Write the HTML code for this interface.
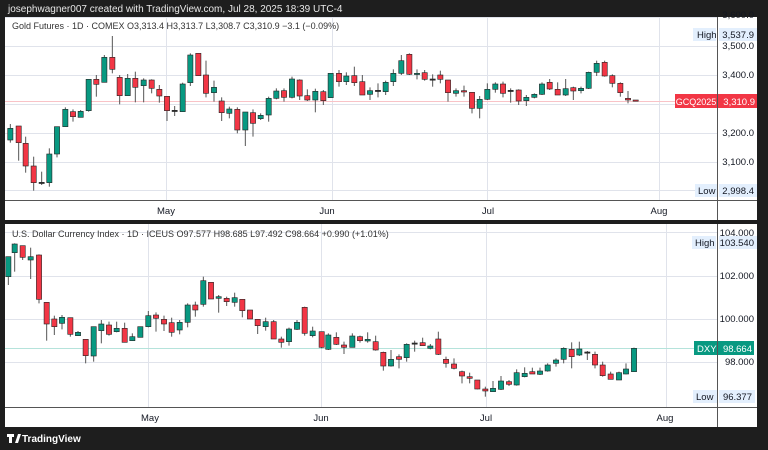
<!DOCTYPE html>
<html><head><meta charset="utf-8"><style>
html,body{margin:0;padding:0;background:#1e1e1e;width:768px;height:450px;overflow:hidden;font-family:"Liberation Sans",sans-serif}
svg{position:absolute;left:0;top:0}
</style></head><body>
<svg id="s" width="768" height="450" xmlns="http://www.w3.org/2000/svg" font-family="Liberation Sans, sans-serif">
<rect width="768" height="450" fill="#1e1e1e"/>
<text x="8" y="12" fill="#e8e8e8" font-size="10">josephwagner007 created with TradingView.com, Jul 28, 2025 18:39 UTC-4</text>
<rect x="5" y="17" width="752" height="203" fill="#fff"/>
<rect x="5" y="224" width="752" height="203" fill="#fff"/>
<g id="grid" stroke="#e0e3eb" stroke-width="1"></g>
<g id="c"></g>
<g id="ov"></g>
</svg>
<script>
const NS="http://www.w3.org/2000/svg";
const g=document.getElementById('grid'),c=document.getElementById('c'),ov=document.getElementById('ov');
function el(p,t,a,txt){const e=document.createElementNS(NS,t);for(const k in a)e.setAttribute(k,a[k]);if(txt!=null)e.textContent=txt;p.appendChild(e);return e;}
function line(p,x1,y1,x2,y2,s,w,d){el(p,'line',{x1,y1,x2,y2,stroke:s||'#e0e3eb','stroke-width':w||1,'stroke-dasharray':d||''});}
function txt(x,y,t,o){return el(ov,'text',Object.assign({x,y,'font-size':9.5,fill:'#131722'},o||{}),t);}
[17,46,75,104,133,162,190].forEach(y=>line(g,5,y+.5,717,y+.5));
[166,332,487,659].forEach(x=>line(g,x+.5,17,x+.5,200));
[232,276,319,362].forEach(y=>line(g,5,y+.5,717,y+.5));
[148,321,486,666].forEach(x=>line(g,x+.5,224,x+.5,407));
line(g,5,101.5,717,101.5,'#f9c3c7',1);
line(g,5,348.5,717,348.5,'#b5e3db',1);
const G1=[[31,'g',325,360,312,368],[56,'r',318,368,318,422],[77,'r',370,438,350,458],[101,'r',438,488,410,512],[125,'d',487,489,455,495],[148,'g',402,488,385,500],[171,'g',320,402,320,412],[196,'g',268,320,262,320],[219,'r',275,290,268,305],[242,'g',274,292,270,292],[266,'g',178,272,178,275],[289,'r',178,193,165,230],[313,'g',112,187,105,187],[337,'r',112,148,48,160],[359,'r',172,227,165,253],[383,'g',175,227,162,227],[406,'r',175,202,155,247],[431,'g',180,197,175,247],[455,'r',180,205,178,220],[478,'r',208,228,195,248],[501,'r',229,272,229,303],[524,'d',271,273,258,288],[548,'g',192,275,188,275],[571,'g',105,188,100,198],[595,'r',100,167,100,167],[618,'r',165,220,122,232],[642,'g',202,218,182,245],[665,'r',243,278,232,303],[688,'g',267,280,260,295],[712,'r',268,330,262,340],[736,'g',276,330,276,378],[759,'r',278,310,268,350],[782,'g',286,296,280,300],[806,'g',235,285,230,305],[829,'g',213,235,205,238],[852,'r',212,232,205,245],[876,'g',177,232,170,235],[899,'r',180,228,178,240],[922,'r',227,240,208,243],[946,'g',214,240,206,277]];
const G2=[[10,'r',155,182,150,195],[32,'g',100,173,100,173],[57,'r',100,125,90,140],[79,'g',108,125,97,135],[103,'r',107,128,80,138],[127,'r',125,165,105,165],[150,'g',152,163,142,180],[174,'d',151,153,130,172],[197,'g',127,155,122,165],[220,'g',100,125,88,138],[244,'g',62,100,45,105],[268,'r',43,103,40,105],[291,'g',100,103,88,118],[314,'r',98,118,90,122],[338,'d',117,119,103,140],[361,'r',105,118,92,130],[384,'r',120,158,120,185],[408,'g',152,160,145,170],[432,'r',152,156,137,170],[456,'r',157,205,157,220],[479,'g',178,205,168,235],[502,'g',148,178,130,180],[526,'g',132,148,127,158],[549,'r',132,160,125,172],[572,'d',151,153,145,188],[596,'r',150,183,148,195],[619,'g',172,182,165,198],[643,'g',163,172,160,175],[666,'g',132,163,127,165],[689,'r',127,147,117,150],[713,'r',148,165,127,165],[737,'g',146,165,117,168],[760,'r',143,153,140,180],[783,'g',145,152,140,160],[806,'g',97,145,95,147],[830,'g',70,97,62,108],[854,'r',67,108,62,110],[877,'r',107,130,103,142],[901,'r',130,158,127,170],[924,'r',175,180,153,190],[947,'r',180,182,180,182]];
const D1=[[25,'g',95,155,95,180],[44,'g',57,83,55,140],[68,'r',62,97,62,105],[92,'g',95,105,68,162],[117,'r',90,223,88,235],[140,'r',232,297,232,347],[163,'r',282,305,272,330],[186,'g',277,295,270,313],[211,'r',278,328,278,335],[234,'g',322,332,318,333],[257,'r',343,392,343,415],[281,'g',305,393,305,410],[304,'g',297,317,285,355],[327,'r',300,328,290,332],[350,'g',310,320,290,322],[374,'r',310,352,293,352],[397,'g',335,347,325,348],[421,'g',305,337,305,337],[445,'g',272,305,258,307],[468,'r',270,280,262,320],[492,'r',283,297,272,318],[515,'r',293,322,278,335],[539,'g',292,315,285,328],[563,'g',240,292,235,307],[586,'r',240,255,230,275],[610,'g',167,238,155,245],[633,'r',172,222,172,222],[656,'g',215,220,210,263],[680,'r',220,230,215,243],[704,'g',218,232,203,245],[727,'r',223,257,223,277],[750,'r',255,282,255,282],[773,'r',283,302,283,327],[797,'g',290,305,278,317],[821,'r',290,342,285,342],[844,'r',342,352,335,368],[867,'g',312,350,308,362],[891,'g',292,313,285,315],[914,'r',247,325,245,332],[938,'g',318,332,305,337]];
const D2=[[5,'r',95,142,95,145],[25,'g',105,148,100,150],[49,'r',112,133,97,135],[72,'r',135,142,125,162],[97,'g',108,142,100,142],[120,'r',110,122,107,128],[143,'g',118,123,97,128],[167,'r',125,150,107,152],[190,'r',157,198,155,212],[213,'g',178,198,150,200],[237,'r',170,178,163,205],[260,'g',133,173,130,185],[284,'d',129,131,122,155],[308,'r',128,137,113,137],[331,'g',138,145,132,148],[355,'r',117,163,95,165],[378,'r',178,190,170,203],[402,'r',192,205,175,208],[426,'r',215,228,212,250],[449,'r',230,235,218,250],[472,'r',240,267,240,268],[496,'r',267,273,260,290],[519,'g',265,275,243,275],[543,'g',243,268,228,270],[567,'r',245,253,240,258],[590,'g',218,255,208,257],[614,'g',220,230,202,232],[637,'r',215,222,203,222],[660,'g',213,223,203,225],[683,'g',195,213,190,215],[708,'g',180,190,175,200],[731,'g',145,178,142,190],[755,'r',148,170,127,205],[778,'g',147,165,125,168],[802,'d',156,158,153,180],[825,'r',163,195,155,205],[848,'r',195,227,185,230],[872,'r',222,238,215,238],[897,'g',218,240,215,240],[918,'g',207,222,190,223],[942,'g',145,215,143,215]];
function draw(arr,ox,oy,clipTop){arr.forEach(a=>{const x=ox+a[0]/3,bt=oy+a[2]/3,bb=oy+a[3]/3,wt=Math.max(clipTop,oy+a[4]/3),wb=oy+a[5]/3;
 const col=a[1]=='g'?'#089981':a[1]=='r'?'#f23645':'#333';
 line(c,x,wt,x,wb,'#555',1);
 el(c,'rect',{x:x-2.6,y:Math.max(clipTop,bt),width:5.2,height:Math.max(1.2,bb-Math.max(clipTop,bt)),fill:col,stroke:'#222','stroke-width':0.6});});}
draw(G1,0,20,17);draw(G2,320,40,17);draw(D1,0,225,224);draw(D2,320,300,224);
line(ov,717.5,17,717.5,220,'#555',1);line(ov,717.5,224,717.5,427,'#555',1);
line(ov,5,200.5,757,200.5,'#555',1);line(ov,5,407.5,757,407.5,'#555',1);
[['3,600.0',18],['3,500.0',49],['3,400.0',78],['3,200.0',136],['3,100.0',165]].forEach(t=>txt(754,t[1],t[0],{'text-anchor':'end'}));
function box(x,y,w,h,f){el(ov,'rect',{x,y,width:w,height:h,fill:f});}
box(693,28,23,13,'#e3effd');txt(697,38,'High');box(719,28,38,13,'#e3effd');txt(754,38,'3,537.9',{'text-anchor':'end'});
box(675,94,42,14,'#f23645');txt(696,105,'GCQ2025',{fill:'#fff','text-anchor':'middle','font-size':9});box(718,94,39,14,'#f23645');txt(755,105,'3,310.9',{fill:'#fff','text-anchor':'end'});
box(695,184,22,13,'#e3effd');txt(698,194,'Low');box(719,184,38,13,'#e3effd');txt(754,194,'2,998.4',{'text-anchor':'end'});
[['May',166],['Jun',327],['Jul',488],['Aug',659]].forEach(t=>txt(t[1],214,t[0],{'text-anchor':'middle'}));
[['104.000',236],['102.000',279],['100.000',322],['98.000',365]].forEach(t=>txt(754,t[1],t[0],{'text-anchor':'end'}));
box(692,236,24,13,'#e3effd');txt(695,246,'High');box(719,236,38,13,'#e3effd');txt(754,246,'103.540',{'text-anchor':'end'});
box(694,341,23,14,'#089981');txt(697,352,'DXY',{fill:'#fff'});box(718,341,36,14,'#089981');txt(752,352,'98.664',{fill:'#fff','text-anchor':'end'});
box(693,390,24,13,'#e3effd');txt(696,400,'Low');box(719,390,36,13,'#e3effd');txt(752,400,'96.377',{'text-anchor':'end'});
[['May',150],['Jun',321],['Jul',486],['Aug',665]].forEach(t=>txt(t[1],421,t[0],{'text-anchor':'middle'}));
txt(12,29,'Gold Futures · 1D · COMEX  O3,313.4  H3,313.7  L3,308.7  C3,310.9  −3.1 (−0.09%)',{fill:'#333','font-size':9,'xml:space':'preserve'});
txt(12,237,'U.S. Dollar Currency Index · 1D · ICEUS  O97.577  H98.685  L97.492  C98.664  +0.990 (+1.01%)',{fill:'#333','font-size':9,'xml:space':'preserve'});
el(ov,'path',{d:'M7 434h7v3h-2v6h-3v-6h-2z M15 443l3-9h3l-3 9z',fill:'#fff'});
txt(22,442,'TradingView',{fill:'#fff','font-size':10,'font-weight':'bold'});
</script>
</body></html>
